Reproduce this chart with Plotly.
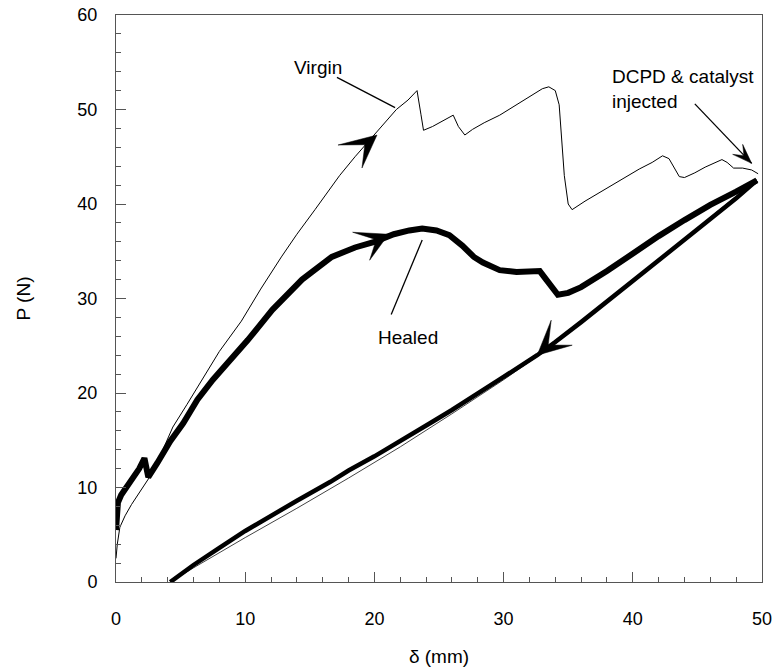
import plotly.graph_objects as go

# ---------------- data ----------------
virgin_load_x = [0, 0.1, 0.3, 0.7, 1.2, 1.9, 2.6, 3.5, 4.4, 5.5, 6.5, 8.0, 9.7, 11.2, 12.8, 14.0,
                 15.4, 17.3, 18.5, 20.2, 21.7, 22.6, 23.3, 23.6, 23.8, 24.5, 25.3, 26.1, 26.5, 27.0,
                 27.6, 28.5, 29.7, 31.0, 32.2, 33.0, 33.5, 34.0, 34.3, 34.5, 34.7, 35.0, 35.3, 36.3,
                 37.4, 38.5, 39.5, 40.5, 41.5, 42.3, 42.8, 43.2, 43.6, 44.0, 44.8, 45.6, 46.4, 46.9,
                 47.3, 47.8, 48.5, 49.2, 49.7]
virgin_load_y = [2.5, 4.0, 5.8, 7.0, 8.2, 9.6, 11.1, 13.6, 16.4, 18.8, 21.0, 24.4, 27.6, 31.0, 34.4, 36.8,
                 39.4, 43.0, 45.0, 47.6, 50.0, 51.0, 52.0, 49.5, 47.8, 48.2, 48.8, 49.4, 48.2, 47.3,
                 47.9, 48.6, 49.4, 50.5, 51.6, 52.2, 52.4, 52.0, 50.5, 47.0, 43.0, 40.0, 39.4, 40.3,
                 41.2, 42.1, 42.9, 43.7, 44.4, 45.1, 44.8, 43.8, 42.9, 42.8, 43.3, 43.9, 44.4, 44.7,
                 44.4, 43.8, 43.8, 43.6, 43.2]

healed_load_x = [0, 0.05, 0.15, 0.4, 0.85, 1.4, 1.8, 2.2, 2.35, 2.5, 3.2, 4.2, 5.2, 6.3, 7.5, 8.4,
                 10.2, 12.1, 14.4, 16.7, 18.5, 20.0, 21.5, 22.7, 23.7, 24.8, 25.8, 26.8, 27.7, 28.4,
                 29.7, 31.0, 32.0, 32.8, 33.3, 33.8, 34.2, 35.0, 36.0, 38.0, 40.0, 42.0, 44.0, 46.0,
                 48.0, 49.6]
healed_load_y = [5.5, 7.0, 8.4, 9.2, 10.1, 11.2, 12.0, 13.1, 12.0, 11.1, 12.6, 14.9, 16.8, 19.3, 21.4, 22.8,
                 25.6, 28.8, 32.0, 34.4, 35.4, 36.0, 36.8, 37.2, 37.4, 37.2, 36.7, 35.6, 34.4, 33.8,
                 33.0, 32.8, 32.8, 32.9, 32.0, 31.0, 30.4, 30.6, 31.2, 32.9, 34.8, 36.6, 38.3, 39.9,
                 41.3, 42.5]

healed_unload_x = [49.6, 48.0, 46.0, 44.0, 42.0, 40.0, 38.0, 36.0, 34.0, 32.6, 30.0, 28.0, 26.0, 24.3,
                   22.0, 20.0, 18.0, 16.6, 14.0, 12.0, 10.0, 8.0, 6.0, 4.2]
healed_unload_y = [42.5, 40.6, 38.4, 36.2, 34.0, 31.8, 29.7, 27.5, 25.4, 24.0, 21.7, 19.9, 18.2, 16.8,
                   14.9, 13.3, 11.8, 10.6, 8.6, 7.0, 5.4, 3.6, 1.8, 0.0]

virgin_unload_x = [49.6, 46.0, 42.0, 38.0, 34.0, 30.0, 26.0, 22.0, 18.0, 14.0, 10.0, 6.0, 4.2]
virgin_unload_y = [42.6, 38.6, 34.0, 29.6, 25.2, 21.4, 17.8, 14.3, 11.0, 7.8, 4.7, 1.5, 0.0]

x_ticks = [0, 10, 20, 30, 40, 50]
y_ticks = [0, 10, 20, 30, 40, 50, 60]

# annotation anchor points (data units)
virgin_label = (15.6, 54.4)
virgin_leader = [(17.1, 53.4), (21.6, 50.2)]
healed_label = (22.6, 25.9)
healed_leader = [(21.3, 28.3), (23.7, 36.2)]
dcpd_label = (38.2, 52.2)
dcpd_leader = [(44.8, 50.6), (49.2, 44.3)]

# arrow tips (data) and barb offsets (screen px, y down)
arrow_tips = [(20.2, 47.3), (21.1, 36.8), (32.6, 24.0), (49.2, 44.3)]
arrow_barbs = [[(-39, 10), (-15, 33)],
               [(-36, -2), (-19, 26)],
               [(14, -35), (35, -10)],
               [(-19, -9), (-9, -19)]]
arrow_notch = [0.45, 0.45, 0.45, 0.55]

FONT = "Liberation Sans, Arial, Helvetica, sans-serif"

fig = go.Figure()
fig.add_trace(go.Scatter(x=virgin_load_x, y=virgin_load_y, mode="lines",
                         line=dict(color="black", width=1), showlegend=False))
fig.add_trace(go.Scatter(x=virgin_unload_x, y=virgin_unload_y, mode="lines",
                         line=dict(color="#444", width=1), showlegend=False))
fig.add_trace(go.Scatter(x=healed_load_x, y=healed_load_y, mode="lines",
                         line=dict(color="black", width=6), showlegend=False))
fig.add_trace(go.Scatter(x=healed_unload_x, y=healed_unload_y, mode="lines",
                         line=dict(color="black", width=4.5), showlegend=False))

shapes = []
for (x0, y0), (x1, y1) in [virgin_leader, healed_leader, dcpd_leader]:
    shapes.append(dict(type="line", xref="x", yref="y", x0=x0, y0=y0, x1=x1, y1=y1,
                       line=dict(color="black", width=1.3)))

for (tx, ty), barbs, nf in zip(arrow_tips, arrow_barbs, arrow_notch):
    (b1x, b1y), (b2x, b2y) = barbs
    b1y, b2y = -b1y, -b2y
    mx, my = (b1x + b2x) / 2 * nf, (b1y + b2y) / 2 * nf
    path = f"M 0,0 L {b1x},{b1y} L {mx},{my} L {b2x},{b2y} Z"
    shapes.append(dict(type="path", xref="x", yref="y", xsizemode="pixel", ysizemode="pixel",
                       xanchor=tx, yanchor=ty, path=path, fillcolor="black",
                       line=dict(color="black", width=0.5)))

annotations = [
    dict(x=virgin_label[0], y=virgin_label[1], text="Virgin", showarrow=False,
         xanchor="center", yanchor="middle", font=dict(size=19, family=FONT, color="black")),
    dict(x=healed_label[0], y=healed_label[1], text="Healed", showarrow=False,
         xanchor="center", yanchor="middle", font=dict(size=19, family=FONT, color="black")),
    dict(x=dcpd_label[0], y=dcpd_label[1], text="DCPD & catalyst<br>injected", showarrow=False,
         xanchor="left", yanchor="middle", align="left",
         font=dict(size=19, family=FONT, color="black")),
]

axis_common = dict(showgrid=False, zeroline=False, showline=True, linecolor="#555", linewidth=1,
                   mirror=True, ticks="inside", ticklen=10, tickwidth=1, tickcolor="#555",
                   tickfont=dict(size=18, family=FONT, color="black"))

fig.update_layout(
    width=773, height=670,
    margin=dict(l=116, r=11, t=15, b=88, autoexpand=False),
    plot_bgcolor="white", paper_bgcolor="white",
    shapes=shapes, annotations=annotations,
    xaxis=dict(range=[0, 50], tickvals=x_ticks, ticklabelstandoff=20,
               minor=dict(dtick=2, ticks="inside", ticklen=5, tickcolor="#555"),
               title=dict(text="δ (mm)", standoff=22, font=dict(size=19, family=FONT, color="black")),
               **axis_common),
    yaxis=dict(range=[0, 60], tickvals=y_ticks, ticklabelstandoff=14,
               minor=dict(dtick=2, ticks="inside", ticklen=5, tickcolor="#555"),
               title=dict(text="P (N)", standoff=41, font=dict(size=19, family=FONT, color="black")),
               **axis_common),
)

fig.write_html("out.html")
